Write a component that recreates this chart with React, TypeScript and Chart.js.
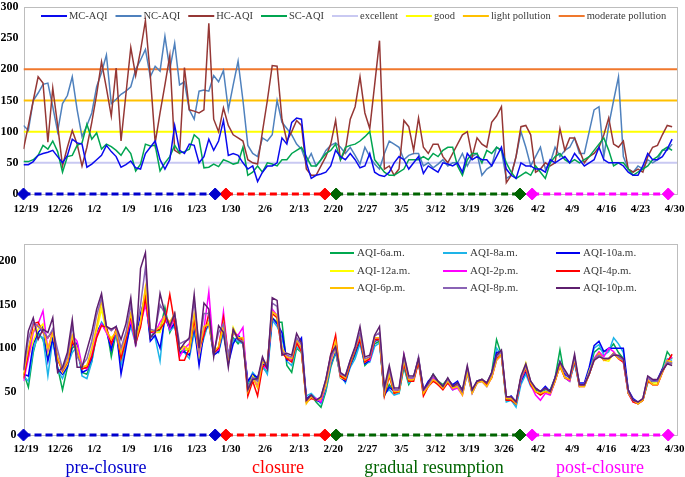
import React, { useEffect, useRef } from 'react';
import { Chart, registerables } from 'chart.js';

Chart.register(...registerables);

const FONT = "'Liberation Serif', 'Times New Roman', serif";

// x axis: day index counted from 12/19 (134 days up to 4/30)
const tickLabels = ['12/19', '12/26', '1/2', '1/9', '1/16', '1/23', '1/30', '2/6', '2/13', '2/20', '2/27', '3/5', '3/12', '3/19', '3/26', '4/2', '4/9', '4/16', '4/23', '4/30'];
const tickInterval = 7;
const dayCount = 134;

// ---------- top panel ----------
const mcAQI = [
  47, 47, 52, 62, 65, 67, 70, 60, 50, 62, 88, 82, 80, 43, 48, 55, 62, 78, 68, 60, 43, 47, 53, 42, 40, 65, 75, 85, 55, 40, 55, 110, 70, 65, 80, 78, 50, 60, 88, 70, 85, 118, 62,
  65, 62, 50, 40, 45, 20, 35, 45, 45, 50, 90, 80, 115, 122, 120, 50, 25, 30, 32, 35, 45, 70, 60, 55, 65, 55, 42, 45, 65, 35, 30, 28, 35, 50, 60, 55, 40, 50, 60, 33, 45, 40, 35, 50, 48,
  45, 50, 35, 65, 55, 60, 55, 55, 45, 60, 75, 40, 30, 25, 50, 45, 45, 40, 40, 35, 55, 50, 55, 60, 50, 65, 55, 45, 50, 55, 75, 55, 50, 50, 50, 45, 35, 30, 30, 45, 65, 55, 55, 60, 72, 88,
];
const ncAQI = [
  110, 102, 150, 162, 176, 178, 140, 100, 145, 158, 188, 135, 92, 110, 130, 172, 195, 223, 145, 152, 160, 165, 172, 200, 215, 232, 188, 205, 197, 253, 200, 242, 175, 180, 135, 120, 165, 167, 165, 190, 180, 198, 135,
  175, 213, 150, 78, 65, 60, 90, 85, 95, 150, 115, 105, 95, 80, 72, 50, 65, 45, 55, 70, 78, 82, 75, 65, 75, 62, 48, 75, 60, 48, 40, 65, 85, 80, 75, 55, 62, 65, 65, 45, 50, 42, 48, 55, 45,
  50, 50, 65, 45, 60, 65, 30, 40, 45, 75, 70, 25, 30, 60, 100, 75, 45, 60, 75, 40, 50, 75, 60, 70, 75, 90, 65, 65, 100, 135, 140, 60, 110, 150, 188, 60, 40, 35, 45, 40, 55, 50, 55, 70, 70, 80,
];
const hcAQI = [
  72, 110, 150, 188, 178, 83, 170, 110, 45, 75, 102, 80, 45, 75, 115, 160, 212, 170, 125, 202, 85, 160, 235, 190, 230, 278, 190, 82, 130, 175, 222, 70, 65, 203, 135, 133, 130, 135, 274, 120, 100, 138, 110,
  95, 90, 85, 55, 50, 48, 100, 150, 206, 205, 120, 85, 100, 118, 110, 40, 30, 30, 45, 60, 80, 118, 55, 70, 120, 140, 188, 130, 105, 175, 246, 40, 45, 30, 40, 118, 108, 70, 122, 75, 65, 80, 80, 60, 50,
  65, 80, 95, 100, 60, 90, 80, 75, 115, 125, 140, 18, 30, 60, 108, 110, 95, 35, 40, 50, 45, 50, 105, 70, 90, 90, 70, 50, 60, 65, 75, 95, 122, 80, 75, 85, 40, 35, 40, 35, 60, 75, 78, 95, 110, 108,
];
const scAQI = [
  52, 52, 55, 62, 78, 72, 85, 68, 35, 60, 62, 78, 82, 112, 88, 98, 72, 80, 76, 70, 62, 75, 65, 37, 48, 80, 77, 78, 37, 50, 60, 78, 66, 68, 72, 95, 88, 42, 43, 48, 44, 55, 52,
  48, 50, 75, 30, 35, 45, 35, 50, 48, 45, 55, 55, 65, 70, 75, 60, 45, 45, 55, 65, 70, 80, 55, 75, 78, 80, 85, 92, 100, 55, 45, 35, 30, 30, 35, 40, 55, 55, 55, 60, 55, 65, 60, 70, 75,
  75, 45, 30, 55, 65, 65, 50, 70, 65, 75, 70, 50, 35, 25, 30, 35, 30, 45, 35, 25, 50, 60, 65, 55, 50, 55, 50, 55, 60, 70, 80, 90, 70, 45, 50, 50, 40, 30, 35, 40, 45, 55, 60, 70, 75, 70,
];
const levelNames = ['excellent', 'good', 'light pollution', 'moderate pollution'];
const levelValues = [50, 100, 150, 200];
const levelColors = ['#C9C9F2', '#FFFF00', '#FFC000', '#F0782D'];

// ---------- bottom panel ----------
const aqi6am = [
  72, 55, 95, 118, 110, 88, 112, 78, 52, 78, 100, 105, 72, 70, 85, 118, 128, 125, 90, 118, 88, 108, 128, 110, 128, 160, 112, 120, 120, 147, 118, 130, 95, 98, 98, 125, 90, 115, 130, 95, 98, 120, 85,
  112, 105, 112, 58, 70, 62, 78, 72, 135, 130, 130, 80, 72, 100, 95, 42, 46, 38, 32, 50, 78, 95, 68, 62, 80, 92, 108, 80, 86, 105, 108, 45, 58, 50, 48, 78, 58, 68, 82, 52, 60, 70, 62, 58, 65,
  55, 60, 52, 72, 50, 62, 64, 58, 72, 110, 92, 40, 42, 34, 62, 72, 58, 52, 50, 52, 52, 66, 98, 66, 62, 84, 58, 58, 72, 95, 100, 96, 98, 105, 95, 88, 48, 40, 36, 40, 60, 62, 62, 76, 96, 88,
];
const aqi8am = [
  68, 62, 98, 115, 112, 68, 110, 75, 65, 80, 95, 102, 68, 65, 84, 115, 130, 122, 100, 118, 80, 105, 125, 105, 130, 155, 115, 112, 85, 140, 120, 125, 100, 95, 88, 118, 92, 112, 130, 100, 95, 118, 84,
  110, 108, 105, 60, 72, 65, 80, 70, 132, 125, 112, 85, 80, 102, 96, 45, 48, 42, 36, 52, 80, 96, 70, 60, 78, 88, 105, 82, 84, 102, 106, 48, 52, 46, 48, 80, 60, 64, 84, 50, 58, 66, 60, 54, 60,
  52, 56, 48, 70, 48, 60, 62, 56, 68, 100, 92, 38, 40, 32, 58, 70, 56, 50, 48, 54, 48, 64, 85, 66, 64, 82, 56, 58, 75, 100, 104, 92, 96, 112, 105, 95, 50, 40, 37, 40, 62, 60, 62, 74, 88, 86,
];
const aqi10am = [
  70, 68, 105, 118, 125, 85, 112, 76, 70, 78, 104, 106, 72, 75, 88, 118, 128, 120, 98, 122, 70, 100, 130, 112, 140, 160, 108, 115, 100, 135, 122, 128, 94, 96, 92, 125, 80, 118, 128, 92, 96, 122, 82,
  105, 115, 108, 62, 70, 66, 82, 78, 135, 128, 118, 86, 90, 104, 112, 42, 46, 40, 38, 55, 82, 98, 66, 62, 80, 95, 110, 82, 86, 108, 110, 46, 55, 50, 52, 84, 62, 66, 88, 52, 62, 68, 60, 56, 64,
  58, 62, 50, 74, 52, 62, 63, 60, 70, 95, 96, 42, 45, 38, 62, 74, 58, 54, 50, 56, 50, 66, 84, 70, 66, 84, 60, 60, 78, 103, 108, 96, 100, 100, 100, 100, 52, 42, 38, 40, 66, 62, 64, 76, 82, 84,
];
const aqi12am = [
  68, 90, 108, 122, 128, 95, 118, 90, 72, 82, 112, 100, 78, 80, 95, 120, 145, 118, 112, 118, 90, 115, 138, 110, 130, 168, 120, 118, 118, 135, 128, 132, 98, 100, 96, 130, 92, 120, 130, 98, 100, 125, 88,
  124, 112, 108, 52, 68, 58, 84, 82, 140, 135, 100, 90, 88, 106, 96, 38, 44, 40, 40, 56, 84, 100, 66, 64, 82, 98, 112, 84, 88, 110, 110, 50, 70, 48, 50, 86, 62, 64, 86, 48, 56, 64, 58, 54, 60,
  54, 56, 48, 74, 50, 60, 62, 58, 68, 88, 94, 42, 42, 36, 66, 83, 60, 50, 48, 50, 48, 64, 78, 66, 64, 86, 58, 56, 74, 88, 95, 86, 85, 95, 90, 86, 50, 38, 36, 40, 62, 60, 60, 74, 84, 82,
];
const aqi2pm = [
  62, 88, 118, 128, 143, 98, 120, 88, 74, 84, 115, 108, 80, 76, 92, 115, 128, 118, 105, 120, 92, 112, 132, 104, 128, 150, 118, 118, 130, 138, 122, 135, 90, 100, 105, 135, 95, 122, 165, 96, 98, 142, 90,
  118, 115, 124, 50, 66, 56, 80, 76, 145, 138, 98, 92, 86, 108, 98, 40, 44, 42, 38, 60, 86, 104, 68, 66, 84, 100, 112, 86, 86, 110, 112, 50, 70, 52, 50, 92, 64, 66, 86, 50, 56, 66, 58, 54, 60,
  52, 54, 46, 72, 48, 60, 62, 56, 66, 86, 92, 44, 42, 36, 64, 76, 58, 46, 40, 48, 46, 62, 80, 66, 62, 88, 56, 58, 70, 88, 96, 90, 100, 96, 88, 84, 48, 38, 36, 40, 64, 58, 58, 72, 86, 90,
];
const aqi4pm = [
  65, 95, 128, 130, 118, 112, 120, 87, 74, 84, 108, 96, 76, 78, 90, 112, 126, 124, 105, 122, 88, 110, 138, 106, 124, 158, 118, 120, 122, 130, 162, 128, 86, 86, 100, 132, 100, 115, 140, 94, 100, 135, 90,
  120, 112, 110, 45, 62, 45, 78, 84, 140, 135, 95, 88, 84, 106, 96, 38, 42, 40, 42, 62, 92, 115, 68, 64, 82, 98, 110, 84, 88, 110, 110, 45, 68, 48, 50, 82, 62, 62, 84, 45, 56, 62, 58, 52, 60,
  54, 58, 48, 74, 50, 60, 64, 58, 66, 88, 92, 40, 40, 36, 66, 76, 58, 50, 46, 50, 48, 62, 80, 66, 64, 86, 56, 56, 70, 86, 94, 86, 88, 94, 88, 84, 48, 38, 36, 40, 62, 58, 58, 72, 84, 93,
];
const aqi6pm = [
  70, 100, 120, 126, 122, 100, 118, 88, 75, 85, 115, 98, 78, 80, 100, 125, 155, 120, 110, 120, 95, 115, 140, 108, 130, 170, 120, 120, 125, 138, 130, 140, 100, 102, 98, 140, 98, 125, 128, 96, 102, 128, 88,
  118, 112, 112, 50, 66, 54, 84, 82, 142, 138, 100, 90, 88, 110, 100, 36, 44, 40, 42, 60, 88, 108, 70, 66, 84, 100, 115, 86, 90, 112, 112, 48, 70, 50, 50, 86, 64, 64, 88, 48, 56, 64, 60, 54, 62,
  54, 56, 46, 72, 48, 60, 62, 56, 66, 86, 92, 42, 42, 36, 66, 78, 60, 50, 48, 50, 48, 62, 80, 66, 64, 88, 56, 56, 70, 86, 94, 86, 88, 94, 88, 86, 48, 40, 36, 40, 64, 58, 58, 72, 86, 84,
];
const aqi8pm = [
  74, 110, 130, 125, 120, 112, 122, 98, 76, 90, 126, 90, 80, 88, 108, 138, 158, 125, 120, 125, 100, 118, 150, 115, 150, 193, 122, 120, 150, 140, 125, 140, 105, 108, 110, 155, 100, 140, 140, 95, 118, 128, 92,
  120, 110, 108, 55, 66, 62, 88, 80, 152, 148, 96, 92, 90, 112, 104, 40, 46, 40, 44, 64, 90, 100, 70, 68, 86, 100, 118, 88, 90, 114, 118, 52, 76, 52, 52, 90, 66, 66, 90, 52, 58, 68, 62, 56, 64,
  56, 58, 50, 78, 52, 62, 64, 60, 70, 90, 96, 44, 44, 38, 66, 80, 62, 54, 50, 54, 50, 66, 84, 72, 66, 90, 58, 58, 72, 88, 92, 88, 88, 94, 90, 86, 50, 40, 38, 42, 66, 62, 62, 74, 84, 82,
];
const aqi10pm = [
  75, 120, 135, 110, 122, 118, 135, 72, 78, 95, 133, 78, 78, 98, 118, 145, 163, 125, 122, 125, 110, 128, 158, 102, 192, 210, 112, 118, 163, 140, 125, 140, 98, 106, 112, 162, 100, 152, 145, 90, 126, 118, 78,
  122, 110, 106, 52, 64, 65, 90, 76, 158, 155, 92, 94, 92, 117, 106, 40, 46, 40, 44, 64, 93, 102, 72, 68, 86, 102, 125, 90, 92, 115, 125, 55, 80, 54, 54, 93, 68, 68, 88, 52, 60, 70, 62, 56, 66,
  56, 60, 52, 80, 52, 62, 64, 60, 72, 92, 98, 44, 44, 38, 68, 82, 62, 54, 50, 54, 50, 66, 84, 75, 66, 93, 58, 58, 70, 86, 90, 88, 88, 92, 92, 88, 52, 40, 38, 42, 68, 64, 64, 74, 82, 80,
];
const hourNames = ['AQI-6a.m.', 'AQI-8a.m.', 'AQI-10a.m.', 'AQI-12a.m.', 'AQI-2p.m.', 'AQI-4p.m.', 'AQI-6p.m.', 'AQI-8p.m.', 'AQI-10p.m.'];
const hourSeries = [aqi6am, aqi8am, aqi10am, aqi12am, aqi2pm, aqi4pm, aqi6pm, aqi8pm, aqi10pm];
const hourColors = ['#00A84F', '#1EB4E8', '#0000F0', '#FFFF00', '#FF00FF', '#FF0000', '#FFC000', '#8A63B5', '#5E1F6E'];

// ---------- phases (day index of start / end markers) ----------
const phaseNames = ['pre-closure', 'closure', 'gradual resumption', 'post-closure'];
const phaseStart = [0, 41.5, 64.1, 104.3];
const phaseEnd = [39.3, 61.8, 101.8, 132.2];
const phaseColors = ['#0000CD', '#FF0000', '#006400', '#FF00FF'];
const phaseLabelX = [106, 278, 434, 600];

const toPoints = (values: number[]) => values.map((v, i) => ({ x: i, y: v }));

const lineSet = (label: string, values: number[], color: string, width: number, order: number) => ({
  label,
  data: toPoints(values),
  borderColor: color,
  backgroundColor: color,
  borderWidth: width,
  pointRadius: 0,
  tension: 0,
  order,
});

const phaseSets = () =>
  phaseNames.map((name, k) => ({
    label: name,
    noLegend: true,
    data: [{ x: phaseStart[k], y: 0 }, { x: phaseEnd[k], y: 0 }],
    borderColor: phaseColors[k],
    backgroundColor: phaseColors[k],
    borderWidth: 3,
    borderDash: [7, 4],
    pointStyle: 'rectRot',
    pointRadius: 6,
    pointHoverRadius: 6,
    pointBorderWidth: 1,
    pointBackgroundColor: phaseColors[k],
    pointBorderColor: phaseColors[k],
    clip: false,
    order: 0,
  }));

const xScale = (padding: number, height: number) => ({
  type: 'linear',
  min: 0,
  max: dayCount,
  grid: { display: false, drawTicks: false },
  border: { display: false },
  afterBuildTicks: (s: any) => {
    s.ticks = tickLabels.map((_, k) => ({ value: k * tickInterval }));
  },
  afterFit: (s: any) => {
    s.height = height;
    s.paddingLeft = 0;
    s.paddingRight = 0;
  },
  ticks: {
    autoSkip: false,
    maxRotation: 0,
    minRotation: 0,
    padding,
    labelOffset: 2.5,
    color: '#000',
    font: { family: FONT, size: 11, weight: 'bold' },
    callback: (v: number) => tickLabels[Math.round(v / tickInterval)] ?? '',
  },
});

const yScale = (max: number, ticks: number[], padding: number) => ({
  type: 'linear',
  min: 0,
  max,
  grid: { display: false, drawTicks: false },
  border: { display: false },
  afterBuildTicks: (s: any) => {
    s.ticks = ticks.map((v) => ({ value: v }));
  },
  afterFit: (s: any) => {
    s.width = 23.5;
    s.paddingTop = 0;
    s.paddingBottom = 0;
  },
  ticks: { padding, color: '#000', font: { family: FONT, size: 12, weight: 'bold' } },
});

const framePlugin = {
  id: 'frame',
  beforeDatasetsDraw(chart: any) {
    const { ctx, chartArea: a } = chart;
    ctx.save();
    ctx.strokeStyle = '#BDBDBD';
    ctx.lineWidth = 1;
    ctx.strokeRect(Math.round(a.left) + 0.5, Math.round(a.top) + 0.5, Math.round(a.right - a.left) - 1, Math.round(a.bottom - a.top));
    ctx.restore();
  },
};

type LegendCfg = {
  x?: number;
  y?: number;
  columns?: number[];
  rows?: number[];
  lineLen: number;
  gap: number;
  spacing: number;
  fontSize: number;
};

const makeLegend = (cfg: LegendCfg) => ({
  id: 'inlineLegend',
  afterDatasetsDraw(chart: any) {
    const { ctx } = chart;
    const items = chart.data.datasets.filter((d: any) => !d.noLegend);
    ctx.save();
    ctx.font = `${cfg.fontSize}px ${FONT}`;
    ctx.textBaseline = 'middle';
    ctx.textAlign = 'left';
    let cx = cfg.x ?? 0;
    items.forEach((d: any, k: number) => {
      let ix: number;
      let iy: number;
      if (cfg.columns && cfg.rows) {
        ix = cfg.columns[k % cfg.columns.length];
        iy = cfg.rows[Math.floor(k / cfg.columns.length)];
      } else {
        ix = cx;
        iy = cfg.y ?? 0;
      }
      ctx.strokeStyle = d.borderColor;
      ctx.lineWidth = 2;
      ctx.beginPath();
      ctx.moveTo(ix, iy);
      ctx.lineTo(ix + cfg.lineLen, iy);
      ctx.stroke();
      ctx.fillStyle = '#3A3A3A';
      ctx.fillText(d.label, ix + cfg.lineLen + cfg.gap, iy + 0.5);
      cx = ix + cfg.lineLen + cfg.gap + ctx.measureText(d.label).width + cfg.spacing;
    });
    ctx.restore();
  },
});

export default function App() {
  const topRef = useRef<HTMLCanvasElement>(null);
  const bottomRef = useRef<HTMLCanvasElement>(null);

  useEffect(() => {
    const topSets: any[] = [
      lineSet('MC-AQI', mcAQI, '#0A0AEE', 1.5, 1),
      lineSet('NC-AQI', ncAQI, '#4F81BD', 1.5, 4),
      lineSet('HC-AQI', hcAQI, '#953735', 1.5, 3),
      lineSet('SC-AQI', scAQI, '#00A550', 1.5, 2),
      ...levelNames.map((name, k) => ({
        label: name,
        data: [{ x: 0, y: levelValues[k] }, { x: dayCount, y: levelValues[k] }],
        borderColor: levelColors[k],
        backgroundColor: levelColors[k],
        borderWidth: 2,
        pointRadius: 0,
        order: 10,
      })),
      ...phaseSets(),
    ];

    const top = new Chart(topRef.current as HTMLCanvasElement, {
      type: 'line',
      data: { datasets: topSets },
      options: {
        responsive: false,
        animation: false,
        devicePixelRatio: 1,
        layout: { padding: { left: 0, right: 8, top: 5, bottom: 0 } },
        plugins: { legend: { display: false }, tooltip: { enabled: false } },
        scales: {
          x: xScale(9, 26) as any,
          y: yScale(300, [0, 50, 100, 150, 200, 250, 300], 5) as any,
        },
      },
      plugins: [framePlugin, makeLegend({ x: 41, y: 16, lineLen: 26, gap: 2, spacing: 8, fontSize: 10.5 })],
    } as any);

    const bottomSets: any[] = [
      ...hourNames.map((name, k) => lineSet(name, hourSeries[k], hourColors[k], 1.5, 9 - k)),
      ...phaseSets(),
    ];

    const bottom = new Chart(bottomRef.current as HTMLCanvasElement, {
      type: 'line',
      data: { datasets: bottomSets },
      options: {
        responsive: false,
        animation: false,
        devicePixelRatio: 1,
        layout: { padding: { left: 0, right: 8, top: 19, bottom: 0 } },
        plugins: { legend: { display: false }, tooltip: { enabled: false } },
        scales: {
          x: xScale(7.5, 42) as any,
          y: yScale(220, [0, 50, 100, 150, 200], 7) as any,
        },
      },
      plugins: [
        framePlugin,
        makeLegend({ columns: [330, 443, 556], rows: [28, 46, 63], lineLen: 24, gap: 3, spacing: 0, fontSize: 11 }),
      ],
    } as any);

    return () => {
      top.destroy();
      bottom.destroy();
    };
  }, []);

  return (
    <div style={{ position: 'absolute', left: 0, top: 0, width: 685, height: 477, background: '#fff', overflow: 'hidden' }}>
      <canvas ref={topRef} width={685} height={220} style={{ position: 'absolute', left: 0, top: 0, display: 'block' }} />
      <canvas ref={bottomRef} width={685} height={252} style={{ position: 'absolute', left: 0, top: 225, display: 'block' }} />
      {phaseNames.map((name, k) => (
        <div
          key={name}
          style={{
            position: 'absolute',
            left: phaseLabelX[k],
            top: 456,
            transform: 'translateX(-50%)',
            whiteSpace: 'nowrap',
            fontFamily: FONT,
            fontSize: 18,
            lineHeight: '22px',
            color: phaseColors[k],
          }}
        >
          {name}
        </div>
      ))}
    </div>
  );
}
